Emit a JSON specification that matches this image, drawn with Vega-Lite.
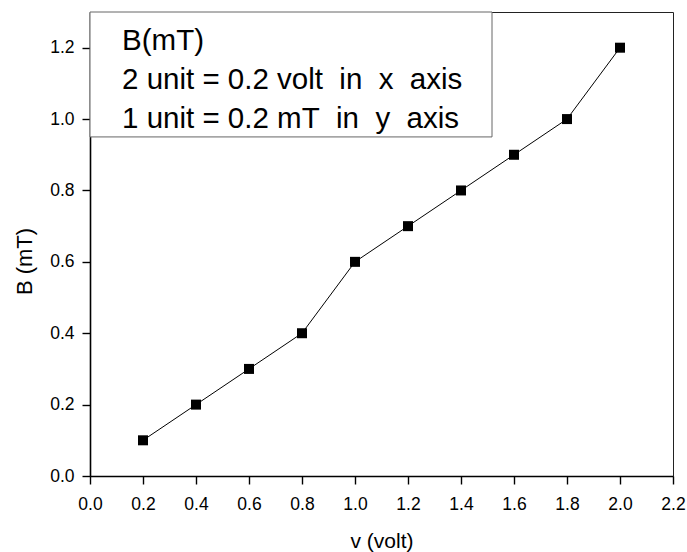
{
  "$schema": "https://vega.github.io/schema/vega-lite/v6.json",
  "autosize": "none",
  "width": 583,
  "height": 464,
  "padding": {"left": 90, "top": 12, "right": 14, "bottom": 76},
  "background": "white",
  "config": {
    "view": {"stroke": "#222", "strokeWidth": 1},
    "axis": {
      "domainColor": "#000",
      "domainWidth": 1.6,
      "tickColor": "#000",
      "tickWidth": 1.4,
      "labelFont": "Liberation Sans",
      "titleFont": "Liberation Sans",
      "labelFontSize": 17.5,
      "labelColor": "#000",
      "titleColor": "#000",
      "titleFontWeight": "normal",
      "grid": false
    }
  },
  "datasets": {
    "pts": [
      {"v": 0.2, "B": 0.1},
      {"v": 0.4, "B": 0.2},
      {"v": 0.6, "B": 0.3},
      {"v": 0.8, "B": 0.4},
      {"v": 1.0, "B": 0.6},
      {"v": 1.2, "B": 0.7},
      {"v": 1.4, "B": 0.8},
      {"v": 1.6, "B": 0.9},
      {"v": 1.8, "B": 1.0},
      {"v": 2.0, "B": 1.2}
    ],
    "box": [{"x": 0, "x2": 1.517, "y": 0.95, "y2": 1.3}],
    "notes": [
      {"x": 0.121, "y": 1.1935, "text": "B(mT)"},
      {"x": 0.121, "y": 1.0843, "text": "2 unit = 0.2 volt\u00a0\u00a0in\u00a0\u00a0x\u00a0\u00a0axis"},
      {"x": 0.121, "y": 0.975, "text": "1 unit = 0.2 mT\u00a0\u00a0in\u00a0\u00a0y\u00a0\u00a0axis"}
    ]
  },
  "layer": [
    {
      "data": {"name": "box"},
      "mark": {"type": "rect", "fill": "white", "stroke": "#666", "strokeWidth": 1},
      "encoding": {
        "x": {"field": "x", "type": "quantitative"},
        "x2": {"field": "x2"},
        "y": {"field": "y", "type": "quantitative"},
        "y2": {"field": "y2"}
      }
    },
    {
      "data": {"name": "notes"},
      "mark": {"type": "text", "align": "left", "baseline": "alphabetic", "font": "Liberation Sans", "fontSize": 29.5, "color": "#000"},
      "encoding": {
        "x": {"field": "x", "type": "quantitative"},
        "y": {"field": "y", "type": "quantitative"},
        "text": {"field": "text"}
      }
    },
    {
      "data": {"name": "pts"},
      "mark": {"type": "line", "color": "#000", "strokeWidth": 1},
      "encoding": {
        "x": {
          "field": "v", "type": "quantitative",
          "scale": {"domain": [0, 2.2], "nice": false, "zero": false},
          "axis": {
            "title": "v (volt)",
            "titleFontSize": 21,
            "values": [0, 0.1, 0.2, 0.3, 0.4, 0.5, 0.6, 0.7, 0.8, 0.9, 1.0, 1.1, 1.2, 1.3, 1.4, 1.5, 1.6, 1.7, 1.8, 1.9, 2.0, 2.1, 2.2],
            "labelExpr": "round(datum.value*10)%2==0 ? format(datum.value,'.1f') : ''",
            "tickSize": {"condition": {"test": "round(datum.value*10)%2==0", "value": 8}, "value": 4},
            "labelPadding": 11,
            "titlePadding": 18,
            "labelFlush": false,
            "labelOverlap": false
          }
        },
        "y": {
          "field": "B", "type": "quantitative",
          "scale": {"domain": [0, 1.3], "nice": false, "zero": false},
          "axis": {
            "title": "B (mT)",
            "titleFontSize": 22,
            "values": [0, 0.1, 0.2, 0.3, 0.4, 0.5, 0.6, 0.7, 0.8, 0.9, 1.0, 1.1, 1.2],
            "labelExpr": "round(datum.value*10)%2==0 ? format(datum.value,'.1f') : ''",
            "tickSize": {"condition": {"test": "round(datum.value*10)%2==0", "value": 8}, "value": 4},
            "labelPadding": 8,
            "titlePadding": 13,
            "titleY": 249,
            "labelFlush": false,
            "labelOverlap": false
          }
        }
      }
    },
    {
      "data": {"name": "pts"},
      "mark": {"type": "point", "shape": "square", "filled": true, "color": "#000", "opacity": 1, "size": 100},
      "encoding": {
        "x": {"field": "v", "type": "quantitative"},
        "y": {"field": "B", "type": "quantitative"}
      }
    }
  ]
}
